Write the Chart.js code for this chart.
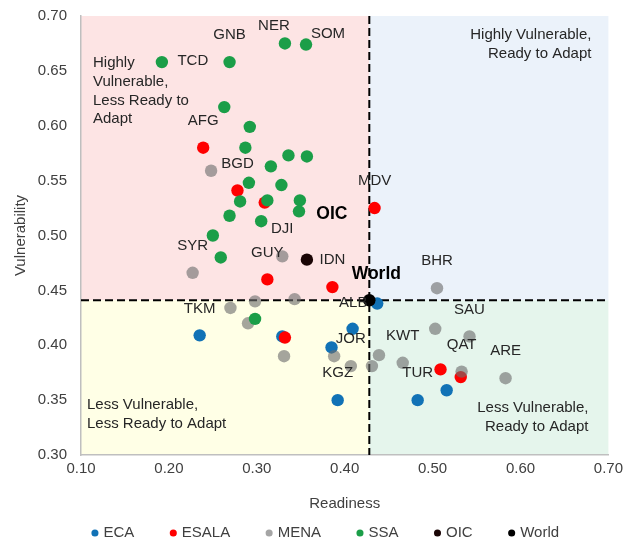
<!DOCTYPE html>
<html>
<head>
<meta charset="utf-8">
<script src="https://cdn.jsdelivr.net/npm/chart.js@4.4.1/dist/chart.umd.min.js"></script>
<style>
  html, body { margin: 0; padding: 0; background: #ffffff; }
  #wrap { width: 628px; height: 541px; }
</style>
</head>
<body>
<div id="wrap"><canvas id="chart" width="628" height="541"></canvas></div>
<script>
// Readiness (x) and vulnerability (y) scores by country group
const ecaReadiness      = [0.235, 0.329, 0.409, 0.385, 0.392, 0.437, 0.516, 0.483];
const ecaVulnerability  = [0.409, 0.408, 0.415, 0.398, 0.350, 0.438, 0.359, 0.350];
const ecaCodes          = ['TKM', '', '', '', 'KGZ', 'ALB', '', 'TUR'];

const esalaReadiness     = [0.239, 0.278, 0.309, 0.434, 0.312, 0.386, 0.332, 0.509, 0.532];
const esalaVulnerability = [0.580, 0.541, 0.530, 0.525, 0.460, 0.453, 0.407, 0.378, 0.371];
const esalaCodes         = ['AFG', 'BGD', '', 'MDV', 'GUY', 'IDN', '', '', ''];

const menaReadiness     = [0.248, 0.329, 0.227, 0.298, 0.343, 0.270, 0.290, 0.331, 0.388,
                           0.407, 0.431, 0.439, 0.466, 0.505, 0.503, 0.542, 0.533, 0.583];
const menaVulnerability = [0.559, 0.481, 0.466, 0.440, 0.442, 0.434, 0.420, 0.390, 0.390,
                           0.381, 0.381, 0.391, 0.384, 0.452, 0.415, 0.408, 0.376, 0.370];
const menaCodes         = ['', 'DJI', 'SYR', '', '', '', '', '', '',
                           'JOR', '', '', 'KWT', 'BHR', '', 'SAU', 'QAT', 'ARE'];

const ssaReadiness     = [0.192, 0.269, 0.332, 0.356, 0.263, 0.292, 0.287, 0.336, 0.357, 0.316, 0.291,
                          0.328, 0.281, 0.312, 0.349, 0.348, 0.269, 0.305, 0.250, 0.259, 0.298];
const ssaVulnerability = [0.658, 0.658, 0.675, 0.674, 0.617, 0.599, 0.580, 0.573, 0.572, 0.563, 0.548,
                          0.546, 0.531, 0.532, 0.532, 0.522, 0.518, 0.513, 0.500, 0.480, 0.424];
const ssaCodes         = ['TCD', 'GNB', 'NER', 'SOM', '', '', '', '', '', '', '',
                          '', '', '', '', '', '', '', '', '', ''];

const oicReadiness = [0.357];
const oicVulnerability = [0.478];
const oicCodes = ['OIC'];

const worldReadiness = [0.428];
const worldVulnerability = [0.441];
const worldCodes = ['World'];

const groupNames = ['ECA', 'ESALA', 'MENA', 'SSA', 'OIC', 'World'];

const xTicks = [0.10, 0.20, 0.30, 0.40, 0.50, 0.60, 0.70];
const yTicks = [0.30, 0.35, 0.40, 0.45, 0.50, 0.55, 0.60, 0.65, 0.70];

// Styling
const FONT = '"Liberation Sans", Arial, Helvetica, sans-serif';
const TEXT = '#404040';
const groupColors = ['#1172b6', '#ff0000', 'rgba(110,110,110,0.62)', '#1b9e48', '#1a0505', '#000000'];
const quadrantFill = {
  topLeft: '#fde4e4',
  topRight: '#ebf2fa',
  bottomLeft: '#ffffe6',
  bottomRight: '#e5f5ec'
};

// Label placement (pixels from the point); default sits above the marker
const defaultShift = [0, -27];
const labelShift = { TCD: [31, -1], NER: [-11, -18], SOM: [22, -11], ALB: [-24, -1], OIC: [25, -45], World: [7, -26] };
const boldLabels = ['OIC', 'World'];

function toPoints(xs, ys) { return xs.map((x, i) => ({ x: x, y: ys[i] })); }

const groups = [
  [ecaReadiness, ecaVulnerability, ecaCodes],
  [esalaReadiness, esalaVulnerability, esalaCodes],
  [menaReadiness, menaVulnerability, menaCodes],
  [ssaReadiness, ssaVulnerability, ssaCodes],
  [oicReadiness, oicVulnerability, oicCodes],
  [worldReadiness, worldVulnerability, worldCodes]
];

const datasets = groups.map((g, i) => ({
  label: groupNames[i],
  data: toPoints(g[0], g[1]),
  codes: g[2],
  backgroundColor: groupColors[i],
  borderWidth: 0,
  pointRadius: 6.2,
  pointHoverRadius: 6.2,
  pointStyle: 'circle',
  order: groups.length - i
}));

// Quadrant shading and the dashed world-average cross
const quadrantPlugin = {
  id: 'quadrants',
  beforeDraw(chart) {
    const { ctx, chartArea: a, scales: { x, y } } = chart;
    const cx = x.getPixelForValue(worldReadiness[0]);
    const cy = y.getPixelForValue(worldVulnerability[0]);
    ctx.save();
    ctx.fillStyle = quadrantFill.topLeft;     ctx.fillRect(a.left, a.top, cx - a.left, cy - a.top);
    ctx.fillStyle = quadrantFill.topRight;    ctx.fillRect(cx, a.top, a.right - cx, cy - a.top);
    ctx.fillStyle = quadrantFill.bottomLeft;  ctx.fillRect(a.left, cy, cx - a.left, a.bottom - cy);
    ctx.fillStyle = quadrantFill.bottomRight; ctx.fillRect(cx, cy, a.right - cx, a.bottom - cy);
    ctx.restore();
  },
  beforeDatasetsDraw(chart) {
    const { ctx, chartArea: a, scales: { x, y } } = chart;
    const cx = x.getPixelForValue(worldReadiness[0]);
    const cy = y.getPixelForValue(worldVulnerability[0]);
    ctx.save();
    ctx.strokeStyle = '#000000';
    ctx.lineWidth = 2;
    ctx.setLineDash([8, 4]);
    ctx.beginPath();
    ctx.moveTo(cx, a.top); ctx.lineTo(cx, a.bottom);
    ctx.moveTo(a.left, cy); ctx.lineTo(a.right, cy);
    ctx.stroke();
    ctx.setLineDash([]);

    // Quadrant captions
    ctx.fillStyle = '#262626';
    ctx.font = '15px ' + FONT;
    ctx.textBaseline = 'middle';
    const step = 18.7;
    const drawLines = (lines, px, py, align) => {
      ctx.textAlign = align;
      lines.forEach((t, i) => ctx.fillText(t, px, py + i * step));
    };
    drawLines(['Highly', 'Vulnerable,', 'Less Ready to', 'Adapt'], a.left + 12, a.top + 47, 'left');
    drawLines(['Highly Vulnerable,', 'Ready to Adapt'], a.right - 17, a.top + 19, 'right');
    drawLines(['Less Vulnerable,', 'Less Ready to Adapt'], a.left + 6, a.bottom - 50, 'left');
    drawLines(['Less Vulnerable,', 'Ready to Adapt'], a.right - 20, a.bottom - 47, 'right');
    ctx.restore();
  }
};

// Country codes next to their markers
const codeLabelPlugin = {
  id: 'codeLabels',
  afterDatasetsDraw(chart) {
    const { ctx } = chart;
    ctx.save();
    ctx.textAlign = 'center';
    ctx.textBaseline = 'middle';
    chart.data.datasets.forEach((ds, di) => {
      const meta = chart.getDatasetMeta(di);
      meta.data.forEach((pt, j) => {
        const code = ds.codes[j];
        if (!code) return;
        const s = labelShift[code] || defaultShift;
        const bold = boldLabels.includes(code);
        ctx.font = (bold ? 'bold 17.5px ' : '15px ') + FONT;
        ctx.fillStyle = bold ? '#000000' : '#262626';
        ctx.fillText(code, pt.x + s[0], pt.y + s[1]);
      });
    });
    ctx.restore();
  }
};

new Chart(document.getElementById('chart'), {
  type: 'scatter',
  data: { datasets: datasets },
  options: {
    responsive: false,
    animation: false,
    devicePixelRatio: 1,
    layout: { padding: { left: 44, right: 19, top: 16, bottom: -9.5 } },
    plugins: {
      tooltip: { enabled: false },
      legend: {
        position: 'bottom',
        labels: {
          usePointStyle: true,
          pointStyle: 'circle',
          boxWidth: 2,
          boxHeight: 5,
          padding: 38,
          color: TEXT,
          font: { family: FONT, size: 15 },
          sort: (a, b) => a.datasetIndex - b.datasetIndex
        }
      }
    },
    scales: {
      x: {
        type: 'linear',
        min: xTicks[0],
        max: xTicks[xTicks.length - 1],
        afterBuildTicks: (s) => { s.ticks = xTicks.map(v => ({ value: v })); },
        afterFit: (s) => { s.height = 32.5; },
        grid: { display: false, drawTicks: false },
        border: { display: true, color: '#bfbfbf', width: 1.5 },
        ticks: {
          padding: 5,
          color: TEXT,
          font: { family: FONT, size: 15 },
          callback: (v) => Number(v).toFixed(2)
        },
        title: {
          display: true,
          text: 'Readiness',
          color: TEXT,
          font: { family: FONT, size: 15 },
          padding: { top: 0, bottom: -25.5 }
        }
      },
      y: {
        type: 'linear',
        min: yTicks[0],
        max: yTicks[yTicks.length - 1],
        afterBuildTicks: (s) => { s.ticks = yTicks.map(v => ({ value: v })); },
        afterFit: (s) => { s.width = 37; },
        grid: { display: false, drawTicks: false },
        border: { display: true, color: '#bfbfbf', width: 1.5 },
        ticks: {
          mirror: true,
          padding: -43.2,
          color: TEXT,
          font: { family: FONT, size: 15 },
          callback: (v) => Number(v).toFixed(2)
        },
        title: {
          display: true,
          text: 'Vulnerability',
          color: TEXT,
          font: { family: FONT, size: 15 },
          padding: { top: -32, bottom: 0 }
        }
      }
    }
  },
  plugins: [quadrantPlugin, codeLabelPlugin]
});
</script>
</body>
</html>
